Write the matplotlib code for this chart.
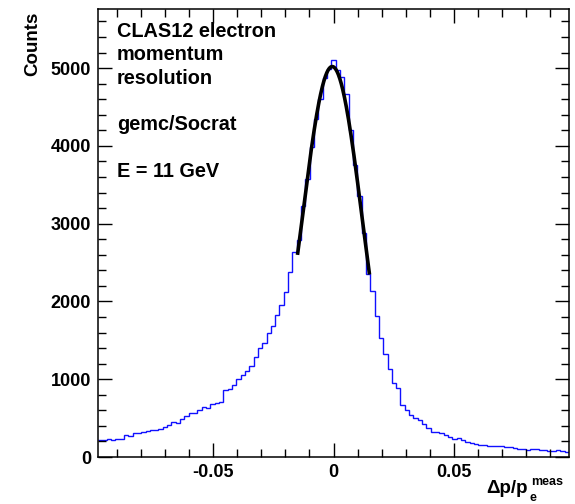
import numpy as np
import matplotlib
matplotlib.use("Agg")
from matplotlib import pyplot as plt

plt.rcParams['font.family'] = ['Liberation Sans', 'DejaVu Sans']
plt.rcParams['font.weight'] = 'bold'

# histogram binning (109 bins)
x_lo, x_hi, n_bins = -0.0981, 0.0981, 109

counts = [
    219, 219, 236, 219, 233, 233, 279, 266, 305, 314,
    322, 330, 348, 348, 356, 391, 408, 451, 433, 486,
    528, 563, 563, 606, 648, 631, 683, 691, 713, 863,
    880, 928, 1001, 1048, 1100, 1173, 1280, 1400, 1465, 1594,
    1688, 1830, 1959, 2122, 2375, 2640, 2796, 3225, 3580, 3990,
    4350, 4600, 4870, 4990, 5100, 4970, 4880, 4670, 4200, 3760,
    3350, 2880, 2350, 2139, 1808, 1529, 1323, 1134, 949, 893,
    670, 606, 541, 507, 477, 425, 370, 326, 318, 305,
    284, 262, 232, 249, 219, 197, 176, 163, 155, 150,
    142, 142, 142, 142, 125, 133, 112, 99, 99, 90,
    99, 99, 90, 90, 82, 82, 90, 82, 60,
]

# gaussian fit result
fit_amp = 5020.0
fit_mean = -0.00054
fit_sigma = 0.0126
fit_range = (-0.015, 0.015)

label_lines = ["CLAS12 electron", "momentum", "resolution", "", "gemc/Socrat", "", "E = 11 GeV"]

W, H = 575, 504
fig = plt.figure(figsize=(W/100, H/100), dpi=100)
ax = fig.add_axes([98/W, (H-457)/H, 471/W, 448/H])

edges = np.linspace(x_lo, x_hi, n_bins + 1)
ax.stairs(counts, edges, baseline=None, color='#1010ff', lw=1.0)

xf = np.linspace(fit_range[0], fit_range[1], 200)
yf = fit_amp*np.exp(-0.5*((xf - fit_mean)/fit_sigma)**2)
ax.plot(xf, yf, color='black', lw=2.6, solid_capstyle='butt')

ax.set_xlim(x_lo, x_hi)
ax.set_ylim(0, 5760)

ax.set_xticks([-0.05, 0, 0.05])
ax.set_xticklabels(['-0.05', '0', '0.05'])
ax.set_xticks(np.arange(-0.09, 0.0901, 0.01), minor=True)
ax.set_yticks(np.arange(0, 5001, 1000))
ax.set_yticks(np.arange(0, 5700, 200), minor=True)

ax.tick_params(which='both', direction='in', top=True, right=True, width=1.0,
               labelsize=13)
ax.tick_params(which='major', length=10, pad=5)
ax.tick_params(which='minor', length=5.5)
for s in ax.spines.values():
    s.set_linewidth(1.1)

for lab in ax.get_xticklabels() + ax.get_yticklabels():
    lab.set_fontweight('bold')

fig.text(33/W, 1 - 12/H, "Counts", rotation=90, ha='center', va='top',
         fontsize=13.5, fontweight='bold')

fig.text(528/W, 1 - 493/H, "\u0394p/p", ha='right', va='baseline',
         fontsize=13.5, fontweight='bold')
fig.text(531/W, 1 - 485/H, "meas", ha='left', va='baseline',
         fontsize=9, fontweight='bold')
fig.text(530/W, 1 - 501/H, "e", ha='left', va='baseline',
         fontsize=9, fontweight='bold')

y0 = 37
for i, line in enumerate(label_lines):
    if line:
        fig.text(117/W, 1 - (y0 + i*23.3)/H, line, ha='left', va='baseline',
                 fontsize=14.3, fontweight='bold')

fig.savefig("out.png", dpi=100)
